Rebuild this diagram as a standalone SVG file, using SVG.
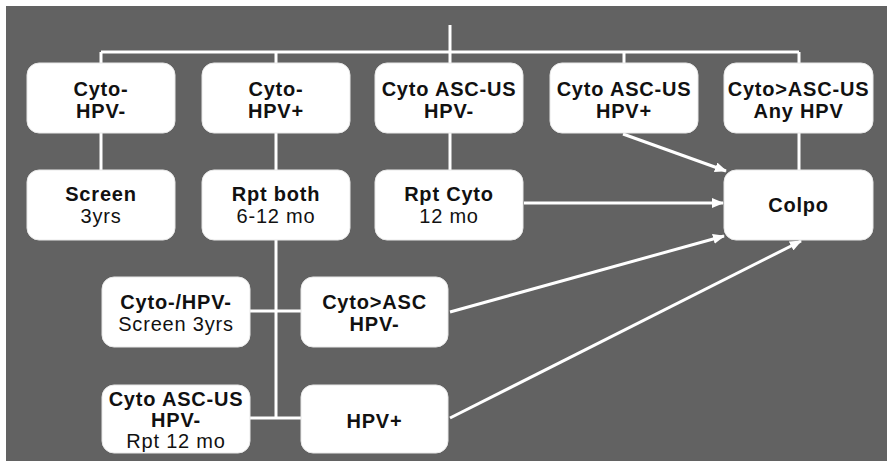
<svg xmlns="http://www.w3.org/2000/svg" width="887" height="461" viewBox="0 0 887 461">
<defs>
<style>
.box{fill:#ffffff;stroke:#e8e8e8;stroke-width:1}
.b{font-family:"Liberation Sans",Arial,sans-serif;font-weight:bold;font-size:20px;letter-spacing:0.8px;fill:#111111;text-anchor:middle}
.r{font-family:"Liberation Sans",Arial,sans-serif;font-weight:normal;font-size:20px;letter-spacing:0.8px;fill:#111111;text-anchor:middle}
.ln{stroke:#ffffff;stroke-width:3;fill:none}
.ar{stroke:#ffffff;stroke-width:3;fill:none;marker-end:url(#ah)}
</style>
<marker id="ah" markerUnits="userSpaceOnUse" markerWidth="12" markerHeight="10" refX="11" refY="5" orient="auto">
<path d="M0,0 L12,5 L0,10 z" fill="#ffffff"/>
</marker>
</defs>
<rect x="0" y="0" width="887" height="461" fill="#ffffff"/>
<rect x="6" y="6" width="881" height="455" fill="#626262"/>
<g id="connectors">
<line class="ln" x1="450" y1="25" x2="450" y2="63"/>
<line class="ln" x1="101" y1="52" x2="799" y2="52"/>
<line class="ln" x1="101" y1="52" x2="101" y2="63"/>
<line class="ln" x1="276" y1="52" x2="276" y2="63"/>
<line class="ln" x1="624" y1="52" x2="624" y2="63"/>
<line class="ln" x1="799" y1="52" x2="799" y2="63"/>
<line class="ln" x1="101" y1="133" x2="101" y2="170"/>
<line class="ln" x1="276" y1="133" x2="276" y2="170"/>
<line class="ln" x1="450" y1="133" x2="450" y2="170"/>
<line class="ln" x1="799" y1="133" x2="799" y2="170"/>
<line class="ln" x1="276" y1="240" x2="276" y2="419"/>
<line class="ln" x1="250" y1="311" x2="301" y2="311"/>
<line class="ln" x1="250" y1="418" x2="301" y2="418"/>
<line class="ar" x1="623" y1="134" x2="726" y2="171"/>
<line class="ar" x1="524" y1="203" x2="723" y2="203"/>
<line class="ar" x1="450" y1="312" x2="724" y2="236"/>
<line class="ar" x1="450" y1="418" x2="801" y2="241"/>
</g>
<g id="n1"><rect class="box" x="27" y="63" width="148" height="70" rx="12"/><text class="b" x="101" y="96">Cyto-</text><text class="b" x="101" y="118">HPV-</text></g>
<g id="n2"><rect class="box" x="202" y="63" width="148" height="70" rx="12"/><text class="b" x="276" y="96">Cyto-</text><text class="b" x="276" y="118">HPV+</text></g>
<g id="n3"><rect class="box" x="375" y="63" width="148" height="70" rx="12"/><text class="b" x="449" y="96">Cyto ASC-US</text><text class="b" x="449" y="118">HPV-</text></g>
<g id="n4"><rect class="box" x="550" y="63" width="148" height="70" rx="12"/><text class="b" x="624" y="96">Cyto ASC-US</text><text class="b" x="624" y="118">HPV+</text></g>
<g id="n5"><rect class="box" x="724" y="63" width="149" height="70" rx="12"/><text class="b" x="798.5" y="96">Cyto&gt;ASC-US</text><text class="b" x="798.5" y="118">Any HPV</text></g>
<g id="n6"><rect class="box" x="27" y="170" width="148" height="70" rx="12"/><text class="b" x="101" y="201">Screen</text><text class="r" x="101" y="223">3yrs</text></g>
<g id="n7"><rect class="box" x="202" y="170" width="148" height="70" rx="12"/><text class="b" x="276" y="201">Rpt both</text><text class="r" x="276" y="223">6-12 mo</text></g>
<g id="n8"><rect class="box" x="375" y="170" width="148" height="70" rx="12"/><text class="b" x="449" y="201">Rpt Cyto</text><text class="r" x="449" y="223">12 mo</text></g>
<g id="n9"><rect class="box" x="724" y="170" width="149" height="70" rx="12"/><text class="b" x="798.5" y="212">Colpo</text></g>
<g id="n10"><rect class="box" x="102" y="277" width="148" height="70" rx="12"/><text class="b" x="176" y="309">Cyto-/HPV-</text><text class="r" x="176" y="331">Screen 3yrs</text></g>
<g id="n11"><rect class="box" x="301" y="277" width="147" height="70" rx="12"/><text class="b" x="374.5" y="309">Cyto&gt;ASC</text><text class="b" x="374.5" y="331">HPV-</text></g>
<g id="n12"><rect class="box" x="102" y="385" width="148" height="68" rx="12"/><text class="b" x="176" y="406">Cyto ASC-US</text><text class="b" x="176" y="427">HPV-</text><text class="r" x="176" y="448">Rpt 12 mo</text></g>
<g id="n13"><rect class="box" x="301" y="385" width="147" height="68" rx="12"/><text class="b" x="374.5" y="428">HPV+</text></g>
</svg>
